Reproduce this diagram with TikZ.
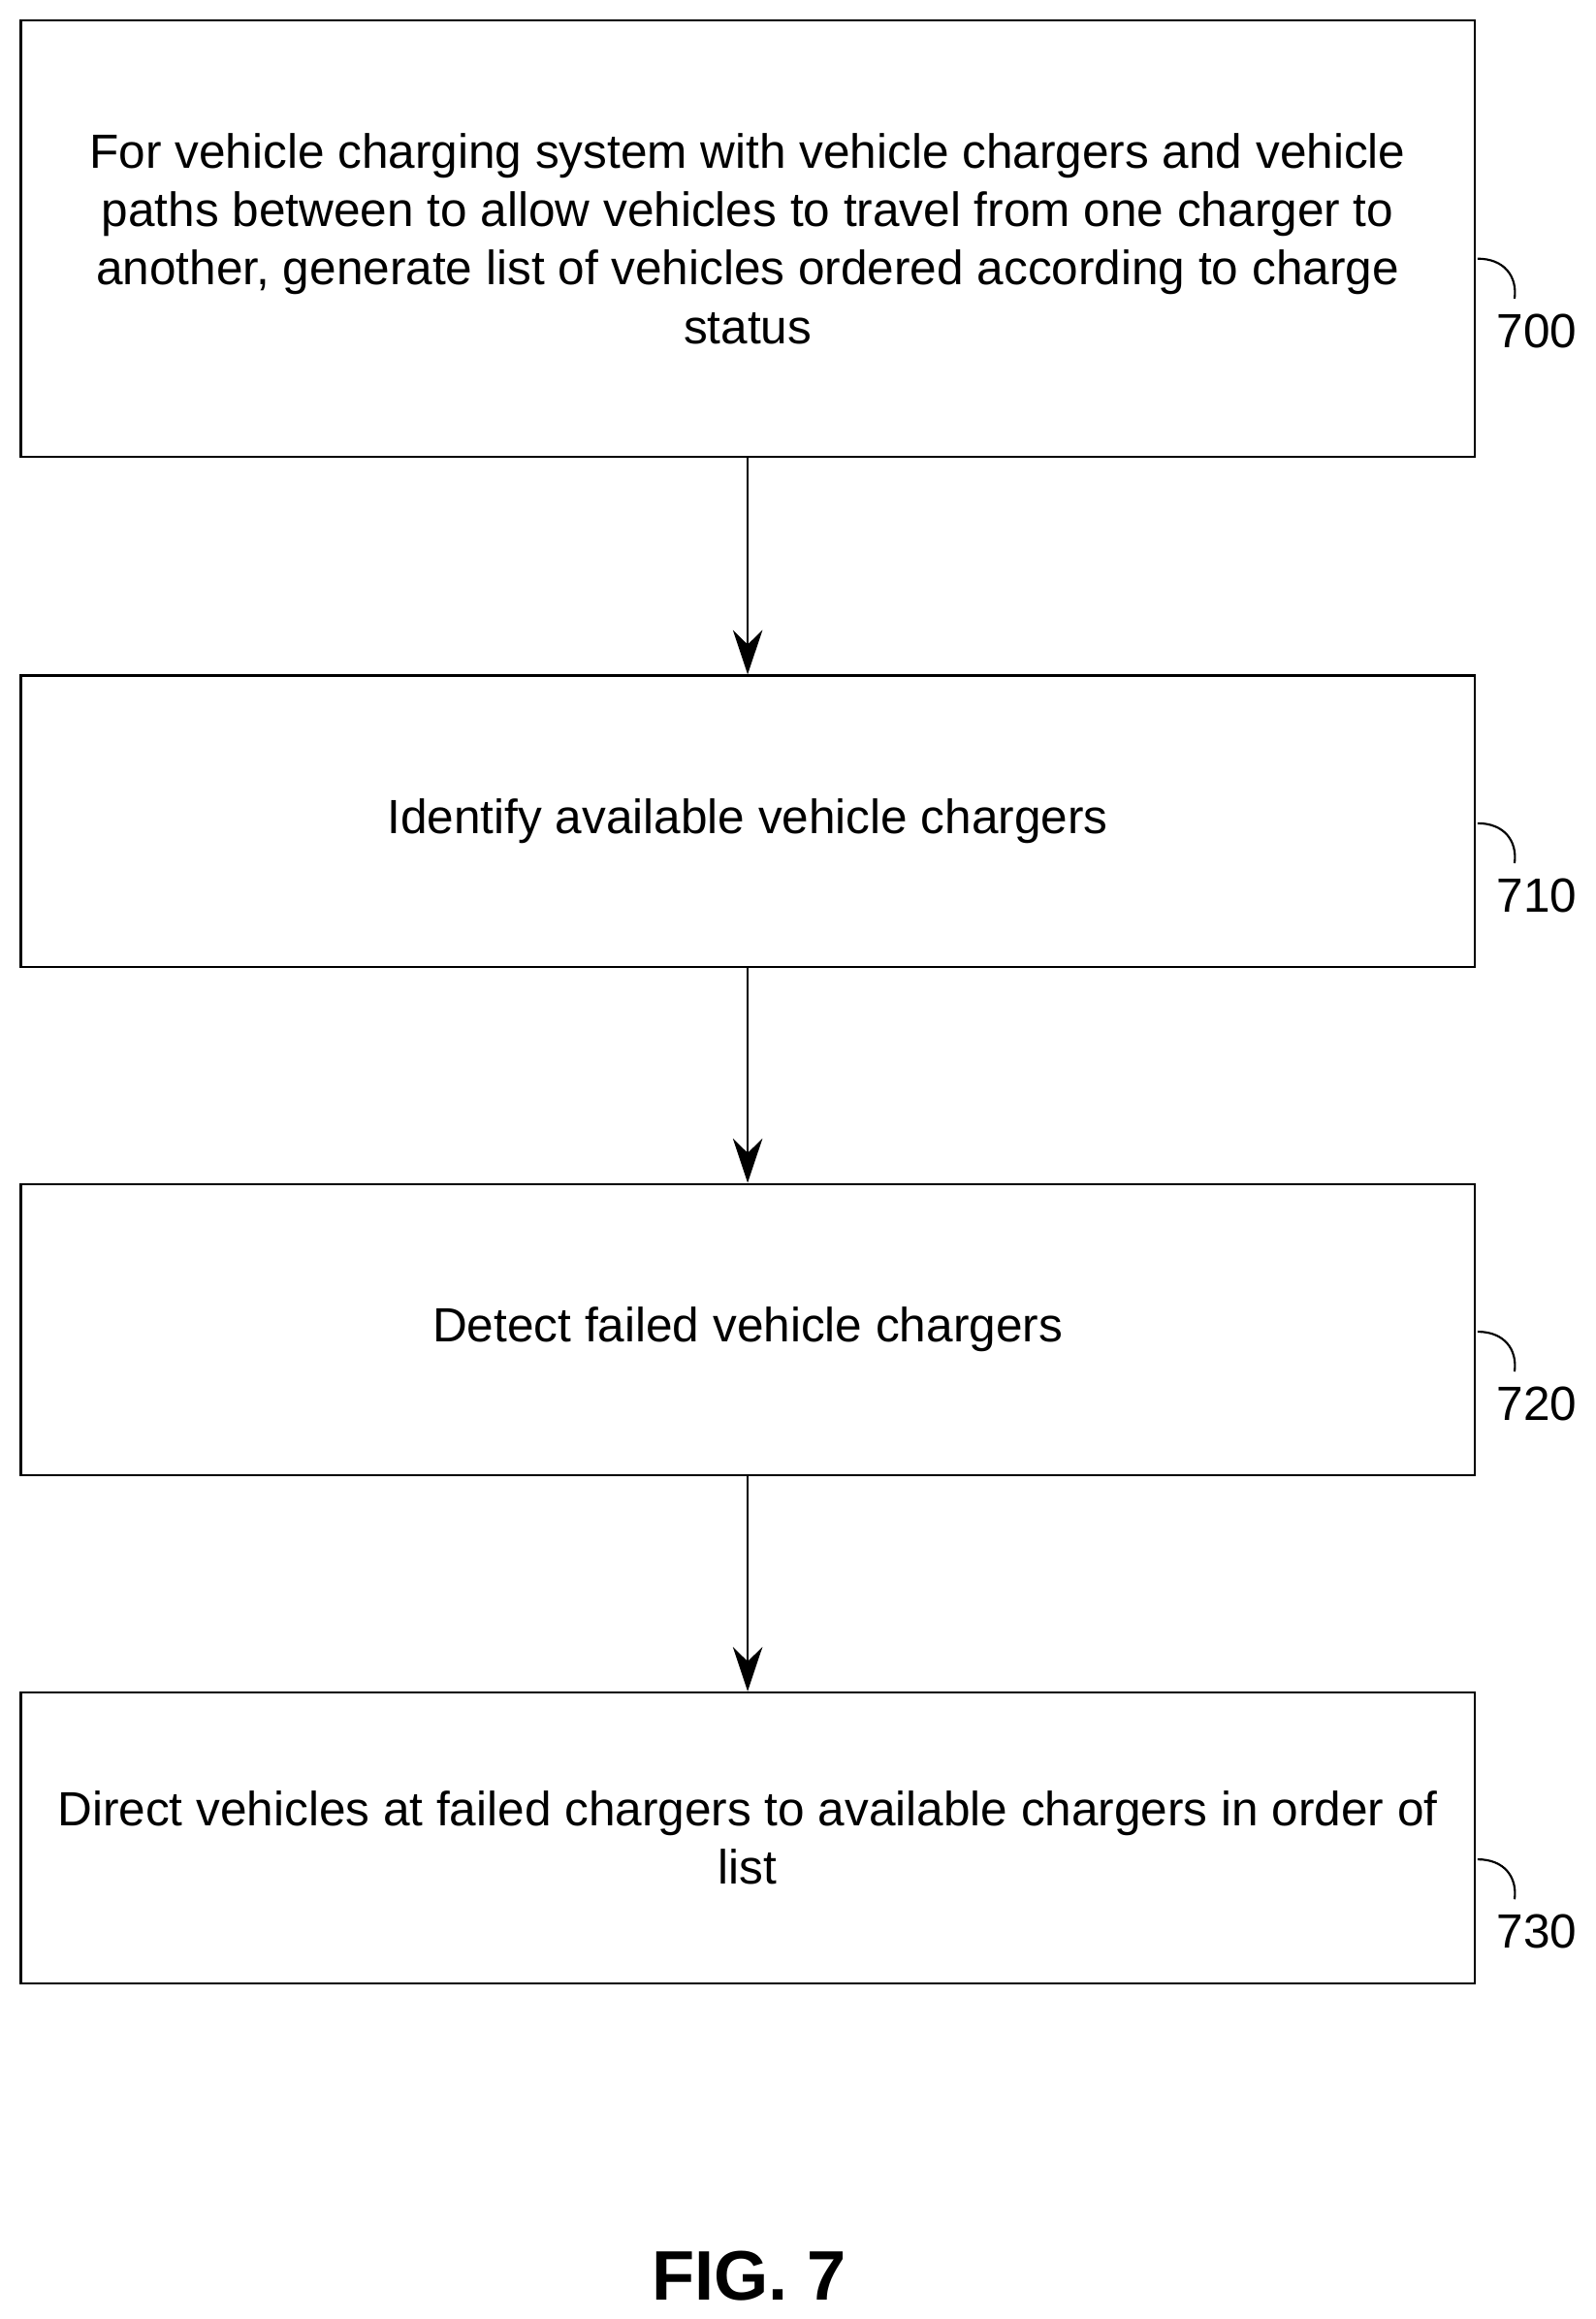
\documentclass[tikz,border=0pt]{standalone}
\usepackage{fontspec}
\setmainfont{Liberation Sans}
\usetikzlibrary{positioning,arrows.meta}

\begin{document}
\begin{tikzpicture}[x=0.02cm,y=-0.02cm,
       step/.style 2 args = {rectangle, draw, thick, minimum width=19.68cm,
                             minimum height=#1, align=center,
                             font=\fontsize{18.5}{22.5}\selectfont},
       flow/.style = {thick, -{Stealth[length=6mm,width=4mm]}},
       tag/.style = {font=\fontsize{18.5}{22}\selectfont}]
	\useasboundingbox (0,0) rectangle (1080,1569);
	%% Steps
	\node [step={5.9cm}{}] (gen) at (506,161.5) {For vehicle charging system with vehicle chargers and vehicle\\ paths between to allow vehicles to travel from one charger to\\ another, generate list of vehicles ordered according to charge\\ status};
	\node [step={3.94cm}{}] (avail) at (506,555.5) {Identify available vehicle chargers};
	\node [step={3.94cm}{}] (fail) at (506,899.5) {Detect failed vehicle chargers};
	\node [step={3.94cm}{}] (direct) at (506,1243.5) {Direct vehicles at failed chargers to available chargers in order of\\ list};
	%% Arrows
	\draw [flow] (gen) -- (avail);
	\draw [flow] (avail) -- (fail);
	\draw [flow] (fail) -- (direct);
	%% Reference numerals
	\foreach \name/\num/\y in {gen/700/175, avail/710/557, fail/720/901, direct/730/1258} {
		\draw [thick] (1000,\y) .. controls (1018,\y) and (1027,\y+12) .. (1025,\y+27);
		\node [tag] (n\num) at (1040,\y+49) {\num};
	}
	\node [font=\bfseries\fontsize{27}{30}\selectfont] (fig) at (507,1540) {FIG. 7};
\end{tikzpicture}
\end{document}
